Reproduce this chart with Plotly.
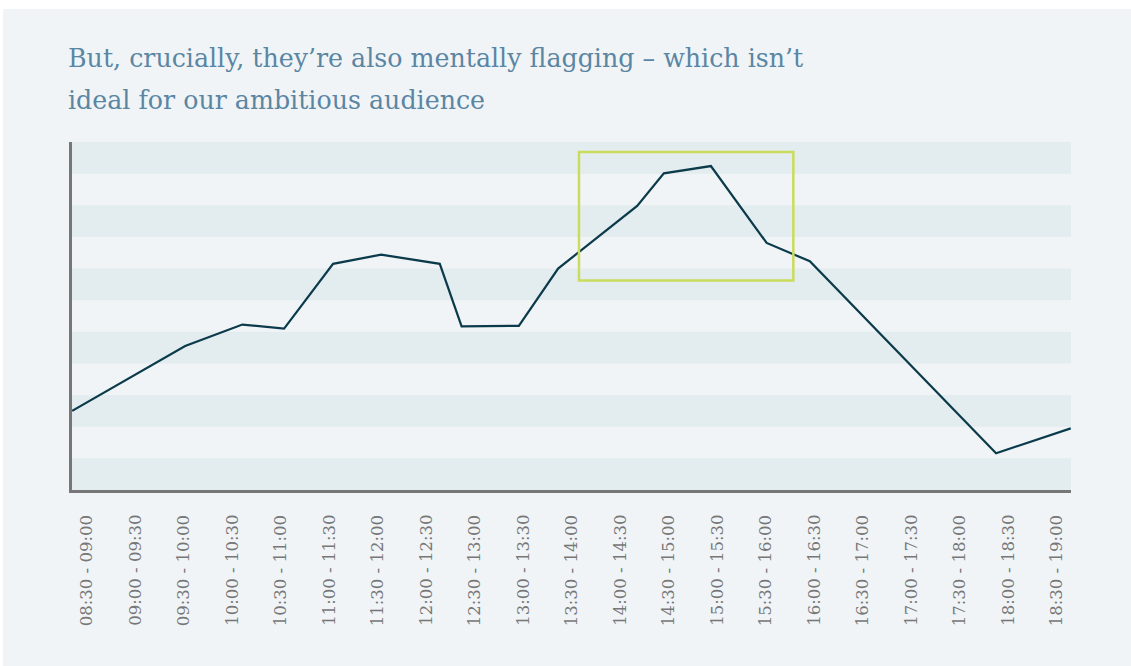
import plotly.graph_objects as go

# Half-hour slots shown along the bottom
slot_labels = [
    "08:30 - 09:00", "09:00 - 09:30", "09:30 - 10:00", "10:00 - 10:30",
    "10:30 - 11:00", "11:00 - 11:30", "11:30 - 12:00", "12:00 - 12:30",
    "12:30 - 13:00", "13:00 - 13:30", "13:30 - 14:00", "14:00 - 14:30",
    "14:30 - 15:00", "15:00 - 15:30", "15:30 - 16:00", "16:00 - 16:30",
    "16:30 - 17:00", "17:00 - 17:30", "17:30 - 18:00", "18:00 - 18:30",
    "18:30 - 19:00",
]

# Mental-fatigue line (x in slot units, y in band units)
fatigue_x = [-0.30, 2.03, 3.21, 4.07, 5.08, 6.07, 7.28, 7.73, 8.91, 9.72,
             11.35, 11.90, 12.87, 14.02, 14.91, 18.75, 20.29]
fatigue_y = [2.50, 4.55, 5.23, 5.10, 7.15, 7.44, 7.15, 5.17, 5.19, 7.00,
             8.98, 10.01, 10.24, 7.81, 7.23, 1.16, 1.95]

# Highlighted afternoon peak
peak_x = [10.15, 14.57]
peak_y = [6.62, 10.68]

n_bands = 11
x_range = [-0.303, 20.295]

PANEL = "#f0f4f7"
BAND = "#e3ecee"
LINE = "#0b3b4b"
TITLE = "#5a86a3"
AXIS = "#777777"
HIGHLIGHT = "#c9dc5c"

W, H = 1131, 666
L, R, T, B = 72, 60, 142, 176
pw, ph = W - L - R, H - T - B


def px_x(p):
    return (p - L) / pw


def px_y(p):
    return (H - B - p) / ph


fig = go.Figure()

fig.add_trace(go.Scatter(
    x=fatigue_x, y=fatigue_y, mode="lines",
    line=dict(color=LINE, width=2.2),
    hoverinfo="skip", showlegend=False,
))

shapes = []
# white page edge around the panel
shapes.append(dict(type="rect", xref="paper", yref="paper",
                   x0=px_x(-5), x1=px_x(3), y0=px_y(H + 5), y1=px_y(-5),
                   fillcolor="white", line=dict(width=0), layer="below"))
shapes.append(dict(type="rect", xref="paper", yref="paper",
                   x0=px_x(-5), x1=px_x(W + 5), y0=px_y(9), y1=px_y(-5),
                   fillcolor="white", line=dict(width=0), layer="below"))
# alternating horizontal bands
for i in range(0, n_bands, 2):
    shapes.append(dict(type="rect", xref="x", yref="y",
                       x0=x_range[0], x1=x_range[1], y0=i, y1=i + 1,
                       fillcolor=BAND, line=dict(width=0), layer="below"))
# highlight box
shapes.append(dict(type="rect", xref="x", yref="y",
                   x0=peak_x[0], x1=peak_x[1], y0=peak_y[0], y1=peak_y[1],
                   line=dict(color=HIGHLIGHT, width=2.5),
                   fillcolor="rgba(0,0,0,0)", layer="above"))

annotations = []
for i, lab in enumerate(slot_labels):
    annotations.append(dict(
        x=i, xref="x", y=px_y(628), yref="paper",
        text=lab, textangle=-90, showarrow=False,
        xanchor="center", yanchor="bottom",
        font=dict(family="DejaVu Serif", size=16.5, color=AXIS),
    ))

title_lines = ["But, crucially, they’re also mentally flagging – which isn’t",
               "ideal for our ambitious audience"]
for k, t in enumerate(title_lines):
    annotations.append(dict(
        x=px_x(66), y=px_y(58.5 + 42 * k), xref="paper", yref="paper", text=t,
        showarrow=False, xanchor="left", yanchor="middle",
        font=dict(family="DejaVu Serif", size=25.3, color=TITLE),
    ))

fig.update_layout(
    width=W, height=H,
    margin=dict(l=L, r=R, t=T, b=B),
    paper_bgcolor=PANEL, plot_bgcolor=PANEL,
    shapes=shapes, annotations=annotations,
    xaxis=dict(range=x_range, showgrid=False, zeroline=False,
               showticklabels=False, ticks="", showline=True,
               linecolor=AXIS, linewidth=2.5, fixedrange=True),
    yaxis=dict(range=[0, n_bands], showgrid=False, zeroline=False,
               showticklabels=False, ticks="", showline=True,
               linecolor=AXIS, linewidth=2.5, fixedrange=True),
)

fig.write_html("out.html", config={"displayModeBar": False})
